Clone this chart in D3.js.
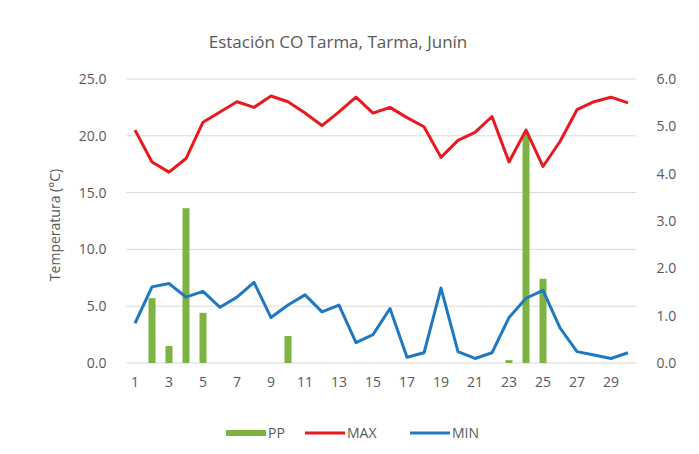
<!DOCTYPE html>
<html>
<head>
<meta charset="utf-8">
<script src="https://cdn.jsdelivr.net/npm/d3@7"></script>
<style>
  body { margin: 0; background: #fff; }
  text { font-family: "Open Sans", "DejaVu Sans", sans-serif; fill: #595959; }
</style>
</head>
<body>
<svg width="699" height="454"></svg>
<script>
// datos
const days = d3.range(1, 31);
const tmax = [20.5, 17.7, 16.8, 18.0, 21.2, 22.1, 23.0, 22.5, 23.5, 23.0,
  22.0, 20.9, 22.1, 23.4, 22.0, 22.5, 21.6, 20.8, 18.1, 19.6,
  20.3, 21.7, 17.7, 20.5, 17.3, 19.5, 22.3, 23.0, 23.4, 22.9];
const tmin = [3.5, 6.7, 7.0, 5.8, 6.3, 4.9, 5.8, 7.1, 4.0, 5.1,
  6.0, 4.5, 5.1, 1.8, 2.5, 4.8, 0.5, 0.9, 6.6, 1.0,
  0.4, 0.9, 4.0, 5.7, 6.4, 3.1, 1.0, 0.7, 0.4, 0.9];
const pp = [0, 1.37, 0.36, 3.27, 1.06, 0, 0, 0, 0, 0.57,
  0, 0, 0, 0, 0, 0, 0, 0, 0, 0,
  0, 0, 0.06, 4.85, 1.78, 0, 0, 0, 0, 0];
const leftTicks = [0, 5, 10, 15, 20, 25];
const rightTicks = [0, 1, 2, 3, 4, 5, 6];

const svg = d3.select("svg");
const plotL = 126.5, plotR = 636.5, plotT = 79, plotB = 363;

const x = d3.scaleBand().domain(days).range([plotL, plotR]);
const yT = d3.scaleLinear().domain([0, 25]).range([plotB, plotT]);
const yP = d3.scaleLinear().domain([0, 6]).range([plotB, plotT]);

// título
svg.append("text")
  .attr("x", 338).attr("y", 48)
  .attr("text-anchor", "middle")
  .attr("font-size", 17)
  .text("Estación CO Tarma, Tarma, Junín");

// rejilla
svg.append("g")
  .selectAll("line")
  .data(leftTicks)
  .join("line")
  .attr("x1", plotL).attr("x2", plotR)
  .attr("y1", (d) => yT(d)).attr("y2", (d) => yT(d))
  .attr("stroke", "#d9d9d9")
  .attr("stroke-width", 1);

// eje izquierdo
const axL = svg.append("g")
  .attr("transform", `translate(${plotL - 18},0)`)
  .call(d3.axisLeft(yT).tickValues(leftTicks).tickFormat(d3.format(".1f")).tickSize(0).tickPadding(2));
axL.select(".domain").remove();
axL.selectAll("text").attr("font-size", 14).style("font-family", null).attr("fill", null);

// eje derecho
const axR = svg.append("g")
  .attr("transform", `translate(${plotR + 18},0)`)
  .call(d3.axisRight(yP).tickValues(rightTicks).tickFormat(d3.format(".1f")).tickSize(0).tickPadding(2));
axR.select(".domain").remove();
axR.selectAll("text").attr("font-size", 14).style("font-family", null).attr("fill", null);

// eje x
const axX = svg.append("g")
  .attr("transform", `translate(0,${plotB + 8})`)
  .call(d3.axisBottom(x).tickValues(days.filter((d) => d % 2 === 1)).tickSize(0).tickPadding(6));
axX.select(".domain").remove();
axX.selectAll("text").attr("font-size", 14).style("font-family", null).attr("fill", null);

// título eje y
svg.append("text")
  .attr("transform", `translate(60,${(plotT + plotB) / 2 + 4}) rotate(-90)`)
  .attr("text-anchor", "middle")
  .attr("font-size", 14)
  .text("Temperatura (°C)");

// barras PP
const bw = 7;
svg.append("g")
  .selectAll("rect")
  .data(days)
  .join("rect")
  .attr("x", (d) => x(d) + x.bandwidth() / 2 - bw / 2)
  .attr("y", (d, i) => yP(pp[i]))
  .attr("width", bw)
  .attr("height", (d, i) => plotB - yP(pp[i]))
  .attr("fill", "#7cb342");

// líneas
const line = (arr) => d3.line()
  .x((d) => x(d) + x.bandwidth() / 2)
  .y((d, i) => yT(arr[i]))(days);

svg.append("path")
  .attr("d", line(tmax))
  .attr("fill", "none")
  .attr("stroke", "#e8191f")
  .attr("stroke-width", 3)
  .attr("stroke-linejoin", "round");

svg.append("path")
  .attr("d", line(tmin))
  .attr("fill", "none")
  .attr("stroke", "#1f78c1")
  .attr("stroke-width", 3)
  .attr("stroke-linejoin", "round");

// leyenda
const legend = [
  { name: "PP", color: "#7cb342", x: 226, w: 6 },
  { name: "MAX", color: "#e8191f", x: 305, w: 3 },
  { name: "MIN", color: "#1f78c1", x: 410, w: 3 }
];
const lg = svg.append("g").selectAll("g").data(legend).join("g")
  .attr("transform", (d) => `translate(${d.x},433)`);
lg.append("line")
  .attr("x1", 0).attr("x2", 40)
  .attr("stroke", (d) => d.color)
  .attr("stroke-width", (d) => d.w);
lg.append("text")
  .attr("x", 42).attr("y", 5)
  .attr("font-size", 14)
  .text((d) => d.name);
</script>
</body>
</html>
